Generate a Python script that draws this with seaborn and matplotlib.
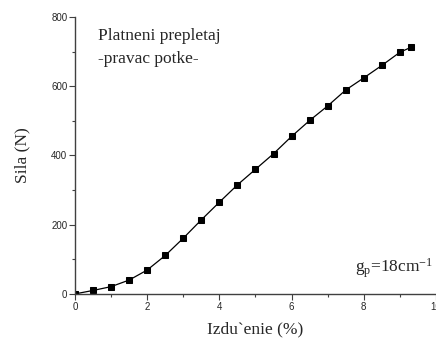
import matplotlib
matplotlib.use("Agg")
import matplotlib.pyplot as plt
from matplotlib.ticker import MultipleLocator
import seaborn as sns
import pandas as pd

# Force-elongation measurements
elongation = [0.0, 0.5, 1.0, 1.5, 2.0, 2.5, 3.0, 3.5, 4.0, 4.5, 5.0,
              5.5, 6.0, 6.5, 7.0, 7.5, 8.0, 8.5, 9.0, 9.3]
force = [0, 10, 21, 40, 69, 111, 161, 214, 265, 315, 360,
         405, 455, 501, 543, 589, 624, 660, 698, 712]

x_ticks = [0, 2, 4, 6, 8, 10]
y_ticks = [0, 200, 400, 600, 800]

sns.set_theme(style="ticks")
plt.rcParams["font.family"] = ["Liberation Serif", "DejaVu Serif"]
plt.rcParams["mathtext.fontset"] = "custom"
plt.rcParams["mathtext.rm"] = "Liberation Serif"
plt.rcParams["mathtext.it"] = "Liberation Serif:italic"

df = pd.DataFrame({"x": elongation, "y": force})

fig = plt.figure(figsize=(4.36, 3.39), dpi=100)
ax = fig.add_axes([0.172, 0.133, 0.828, 0.817])

sns.lineplot(data=df, x="x", y="y", ax=ax, color="black", linewidth=0.9,
             marker="s", markersize=4, markeredgecolor="black",
             markerfacecolor="black")

ax.set_xlim(0, 10)
ax.set_ylim(0, 800)
ax.set_xticks(x_ticks)
ax.set_yticks(y_ticks)
ax.xaxis.set_minor_locator(MultipleLocator(1))
ax.yaxis.set_minor_locator(MultipleLocator(100))

for side in ("top", "right"):
    ax.spines[side].set_visible(False)
for side in ("left", "bottom"):
    ax.spines[side].set_color("#404040")
    ax.spines[side].set_linewidth(1.0)

tick_font = ["Liberation Sans Narrow", "Liberation Sans", "DejaVu Sans"]
ax.tick_params(axis="both", which="major", direction="out", length=4,
               width=0.8, color="#404040", labelsize=7, pad=1.5)
ax.tick_params(axis="both", which="minor", direction="out", length=2.5,
               width=0.8, color="#404040")
for lbl in ax.get_xticklabels() + ax.get_yticklabels():
    lbl.set_family(tick_font)

ax.set_xlabel("Izdu`enie (%)", fontsize=12.5, labelpad=7)
ax.set_ylabel("Sila (N)", fontsize=12.5, labelpad=15)

ax.text(0.064, 0.96, "Platneni prepletaj\n-pravac potke-", transform=ax.transAxes,
        fontsize=12.5, va="top", ha="left", linespacing=1.55)
ax.text(0.776, 0.079, r"g$_\mathrm{p}$=18cm$^{-1}$", transform=ax.transAxes,
        fontsize=12.5, va="baseline", ha="left")

fig.savefig("out.png", dpi=100, facecolor="white")
